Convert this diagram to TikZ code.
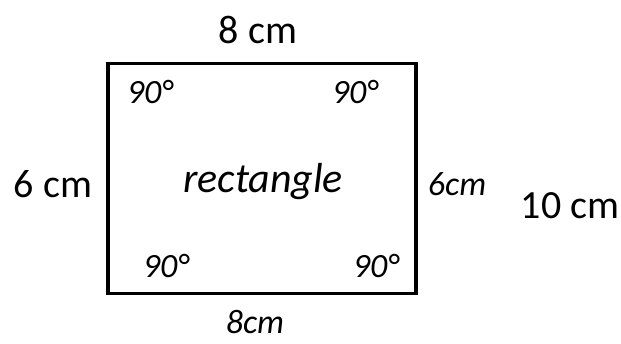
\documentclass[tikz,border=0pt]{standalone}
\usepackage{fontspec}
\setmainfont{Carlito}
\begin{document}
\begin{tikzpicture}[x=1pt,y=-1pt,
  typed/.style={inner sep=0pt,font=\fontsize{40}{46}\selectfont},
  hand/.style={inner sep=0pt,font=\fontsize{34}{40}\selectfont\itshape},
  box/.style={draw=black,line width=3.5pt}]
\useasboundingbox (0,0) rectangle (621,344);
\fill[white] (0,0) rectangle (621,344);
\node[box,minimum width=308pt,minimum height=230pt,anchor=north west] (r) at (106,62) {};
\node[typed] (top) at (258,30) {8 cm};
\node[typed] (left) at (53,184) {6 cm};
\node[typed] (ten) at (570,206) {10 cm};
\node[hand] (right) at (457,184) {6cm};
\node[hand] (bottom) at (255,322) {8cm};
\node[hand,font=\fontsize{42}{48}\selectfont\itshape] (name) at (263,182) {rectangle};
\node[hand] (a1) at (150,92) {90°};
\node[hand] (a2) at (355,92) {90°};
\node[hand] (a3) at (166,266) {90°};
\node[hand] (a4) at (376,266) {90°};
\end{tikzpicture}
\end{document}
